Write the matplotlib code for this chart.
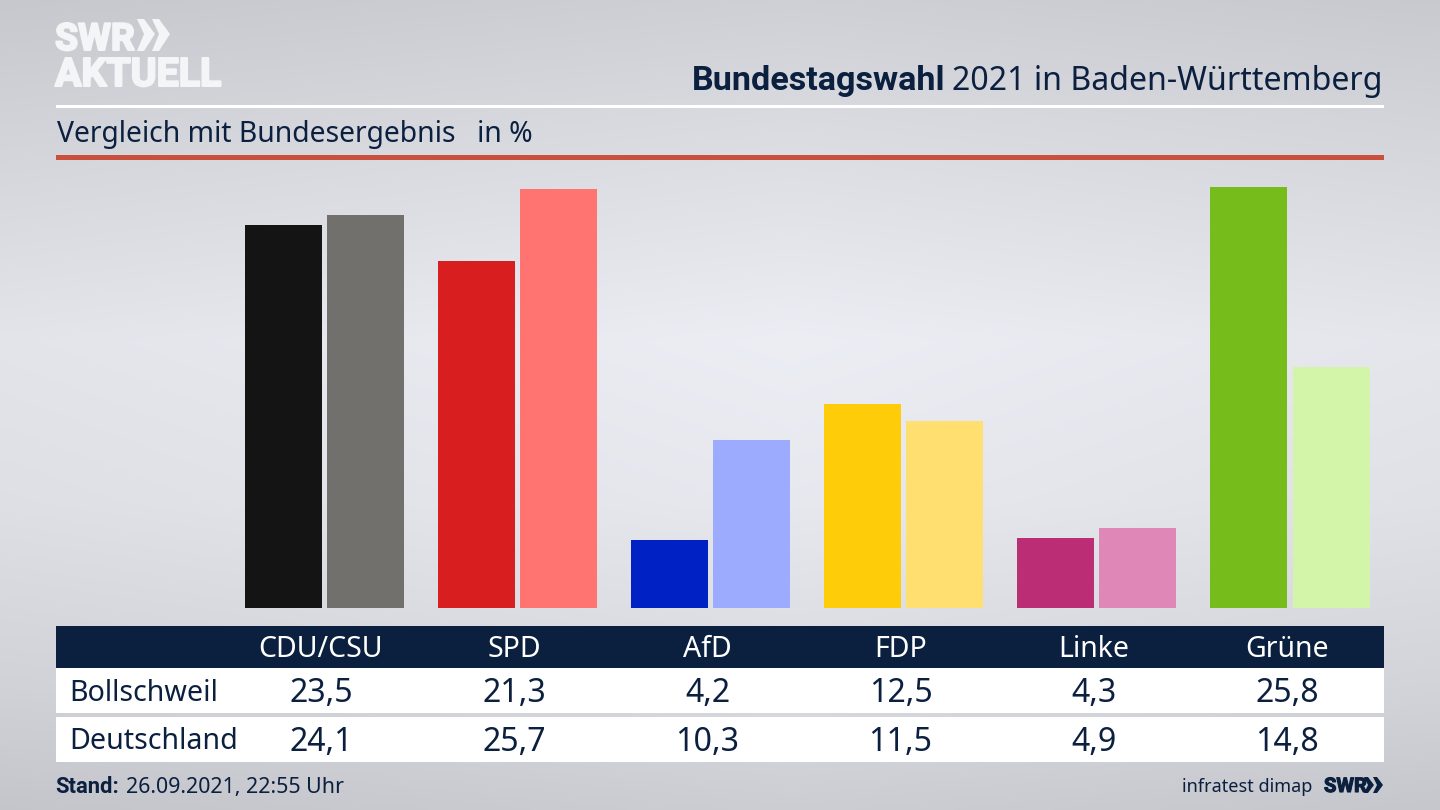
import matplotlib

matplotlib.use("Agg", force=True)
import matplotlib.pyplot as plt
import matplotlib.patheffects as pe
import numpy as np
from matplotlib.patches import Polygon, Rectangle

parties = ["CDU/CSU", "SPD", "AfD", "FDP", "Linke", "Grüne"]
bollschweil = [23.5, 21.3, 4.2, 12.5, 4.3, 25.8]
deutschland = [24.1, 25.7, 10.3, 11.5, 4.9, 14.8]
bollschweil_labels = ["23,5", "21,3", "4,2", "12,5", "4,3", "25,8"]
deutschland_labels = ["24,1", "25,7", "10,3", "11,5", "4,9", "14,8"]
colors_dark = ["#141414", "#d81e1e", "#0022c4", "#ffcc0a", "#bb2d74", "#76bc1a"]
colors_light = ["#72706d", "#ff7370", "#9dabff", "#ffdf70", "#df87b6", "#d3f5a9"]

NAVY = "#0b1f3f"
LOGO = "#f4f5f7"
BOLD_FONT = "Roboto"
W, H = 1440, 810

plt.rcParams["font.family"] = ["Noto Sans", "DejaVu Sans"]

fig = plt.figure(figsize=(W / 100, H / 100), dpi=100)

# background: grey at the edges, lighter band in the upper middle
bg = fig.add_axes([0, 0, 1, 1], zorder=0)
yy = np.linspace(0, 1, 200)
xx = np.linspace(0, 1, 200)
vert = np.interp(yy, [0, 0.12, 0.42, 0.62, 0.85, 1], [0.81, 0.845, 0.925, 0.905, 0.85, 0.80])
horiz = 1 - 0.035 * np.abs(xx - 0.55) * 2
grad = np.outer(vert, horiz)
rgb = np.dstack([grad, grad * 1.008, grad * 1.035]).clip(0, 1)
bg.imshow(rgb, extent=[0, W, H, 0], aspect="auto", interpolation="bilinear")
bg.set_xlim(0, W)
bg.set_ylim(H, 0)
bg.axis("off")

# bars: axes set up so group i is centred at 324.5 + 193.1 * i px, baseline 608 px
ax = fig.add_axes([0, (H - 608) / H, 1, (608 - 187.5) / H], zorder=1)
ax.patch.set_alpha(0)
x = np.arange(len(parties))
ax.bar(x - 0.2125, bollschweil, width=0.399, color=colors_dark)
ax.bar(x + 0.2125, deutschland, width=0.399, color=colors_light)
ax.set_xlim(-324.5 / 193.1, (W - 324.5) / 193.1)
ax.set_ylim(0, 25.8)
ax.axis("off")

# overlay in pixel coordinates for header, rules and table
ov = fig.add_axes([0, 0, 1, 1], zorder=2)
ov.patch.set_alpha(0)
ov.set_xlim(0, W)
ov.set_ylim(H, 0)
ov.axis("off")

ov.add_patch(Rectangle((56, 105), 1328, 2.5, color="white", lw=0))
ov.add_patch(Rectangle((56, 155), 1328, 5, color="#c8503c", lw=0))
ov.add_patch(Rectangle((56, 626), 1328, 42, color=NAVY, lw=0))
ov.add_patch(Rectangle((56, 668), 1328, 45, color="white", lw=0))
ov.add_patch(Rectangle((56, 717), 1328, 45, color="white", lw=0))

# logo, the stroke makes up for Roboto being lighter than the real wordmark
heavy_logo = [pe.withStroke(linewidth=1.5, foreground=LOGO)]
ov.text(55, 50, "SWR", color=LOGO, fontsize=27, fontweight="bold", family=BOLD_FONT, va="baseline",
        path_effects=heavy_logo)
ov.text(55, 86, "AKTUELL", color=LOGO, fontsize=28.3, fontweight="bold", family=BOLD_FONT, va="baseline",
        path_effects=heavy_logo)
for x0 in (137, 152):
    ov.add_patch(Polygon([(x0, 19), (x0 + 7, 19), (x0 + 18, 34), (x0 + 7, 51), (x0, 51), (x0 + 7, 34)],
                         color=LOGO, lw=0))

# title
ov.text(945, 90, "Bundestagswahl", color=NAVY, fontsize=24.6, fontweight="bold", family=BOLD_FONT,
        ha="right", va="baseline")
ov.text(1383, 90, "2021 in Baden-Württemberg", color=NAVY, fontsize=23.1, ha="right", va="baseline")
ov.text(57, 142, "Vergleich mit Bundesergebnis", color=NAVY, fontsize=20.4, va="baseline")
ov.text(477, 142, "in %", color=NAVY, fontsize=20.4, va="baseline")

# table
centers = [321, 514, 707.5, 900.5, 1094, 1287]
for cx, party, a, b in zip(centers, parties, bollschweil_labels, deutschland_labels):
    ov.text(cx, 657, party, color="white", fontsize=20.5, ha="center", va="baseline")
    ov.text(cx, 702, a, color=NAVY, fontsize=23.1, ha="center", va="baseline")
    ov.text(cx, 751, b, color=NAVY, fontsize=23.1, ha="center", va="baseline")
ov.text(69.5, 701, "Bollschweil", color=NAVY, fontsize=20.6, va="baseline")
ov.text(69.5, 749, "Deutschland", color=NAVY, fontsize=20.6, va="baseline")

# footer
ov.text(55, 793, "Stand:", color=NAVY, fontsize=15.8, fontweight="bold", family=BOLD_FONT, va="baseline")
ov.text(126, 793, "26.09.2021, 22:55 Uhr", color=NAVY, fontsize=15.4, va="baseline")
ov.text(1312, 792, "infratest dimap", color=NAVY, fontsize=13, ha="right", va="baseline")
ov.text(1324, 792, "SWR", color=NAVY, fontsize=14.5, fontweight="bold", family=BOLD_FONT, va="baseline",
        path_effects=[pe.withStroke(linewidth=0.8, foreground=NAVY)])
for x0 in (1364, 1373):
    ov.add_patch(Polygon([(x0, 777), (x0 + 4, 777), (x0 + 10, 785), (x0 + 4, 793), (x0, 793), (x0 + 4, 785)],
                         color=NAVY, lw=0))

fig.savefig("out.png", dpi=100)
plt.close(fig)
